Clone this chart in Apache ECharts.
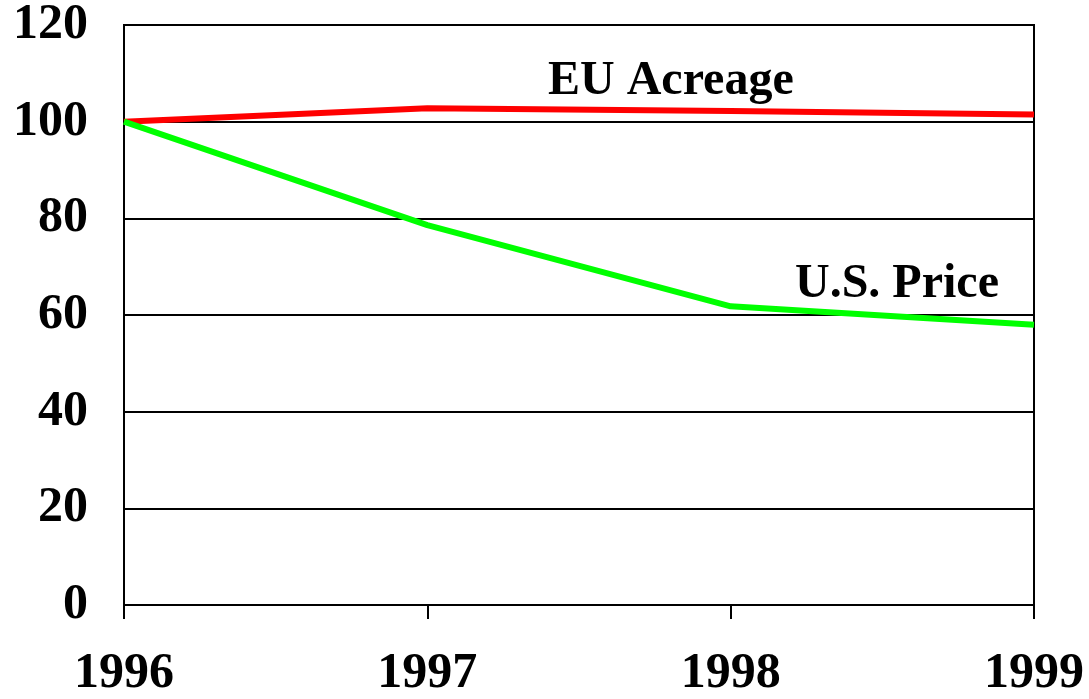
<!DOCTYPE html>
<html>
<head>
<meta charset="utf-8">
<script src="https://cdn.jsdelivr.net/npm/echarts@6/dist/echarts.min.js"></script>
<style>
  html, body { margin: 0; padding: 0; background: #fff; }
  #chart { width: 1089px; height: 699px; }
</style>
</head>
<body>
<div id="chart"></div>
<script>
// data
const years = ['1996', '1997', '1998', '1999'];
const euAcreage = [100, 102.8, 102.2, 101.5];
const usPrice = [100, 78.6, 61.8, 58.0];
const yTicks = [0, 20, 40, 60, 80, 100, 120];

const font = '"Liberation Serif", "Times New Roman", serif';

const myChart = echarts.init(document.getElementById('chart'));

const option = {
  animation: false,
  grid: {
    left: 124, right: 55, top: 25, bottom: 91,
    show: true, borderColor: '#000', borderWidth: 2
  },
  xAxis: {
    type: 'category',
    data: years,
    boundaryGap: false,
    axisLine: { lineStyle: { color: '#000', width: 2 } },
    axisTick: { show: true, length: 14, lineStyle: { color: '#000', width: 2 } },
    axisLabel: {
      color: '#000', fontFamily: font, fontWeight: 'bold', fontSize: 50,
      margin: 44
    }
  },
  yAxis: {
    type: 'value',
    min: yTicks[0],
    max: yTicks[yTicks.length - 1],
    interval: 20,
    axisLine: { show: true, lineStyle: { color: '#000', width: 2 } },
    axisTick: { show: false },
    splitLine: { lineStyle: { color: '#000', width: 2 } },
    axisLabel: {
      color: '#000', fontFamily: font, fontWeight: 'bold', fontSize: 50,
      margin: 36
    }
  },
  series: [
    {
      name: 'EU Acreage',
      type: 'line',
      data: euAcreage,
      symbol: 'none',
      lineStyle: { color: '#ff0000', width: 6 },
      z: 3
    },
    {
      name: 'U.S. Price',
      type: 'line',
      data: usPrice,
      symbol: 'none',
      lineStyle: { color: '#00ff00', width: 6 },
      z: 4
    }
  ],
  graphic: [
    {
      type: 'text', left: 548, top: 58,
      style: { text: 'EU Acreage', fill: '#000', font: 'bold 48px ' + font }
    },
    {
      type: 'text', left: 795, top: 261,
      style: { text: 'U.S. Price', fill: '#000', font: 'bold 48px ' + font }
    }
  ]
};

myChart.setOption(option);
</script>
</body>
</html>
